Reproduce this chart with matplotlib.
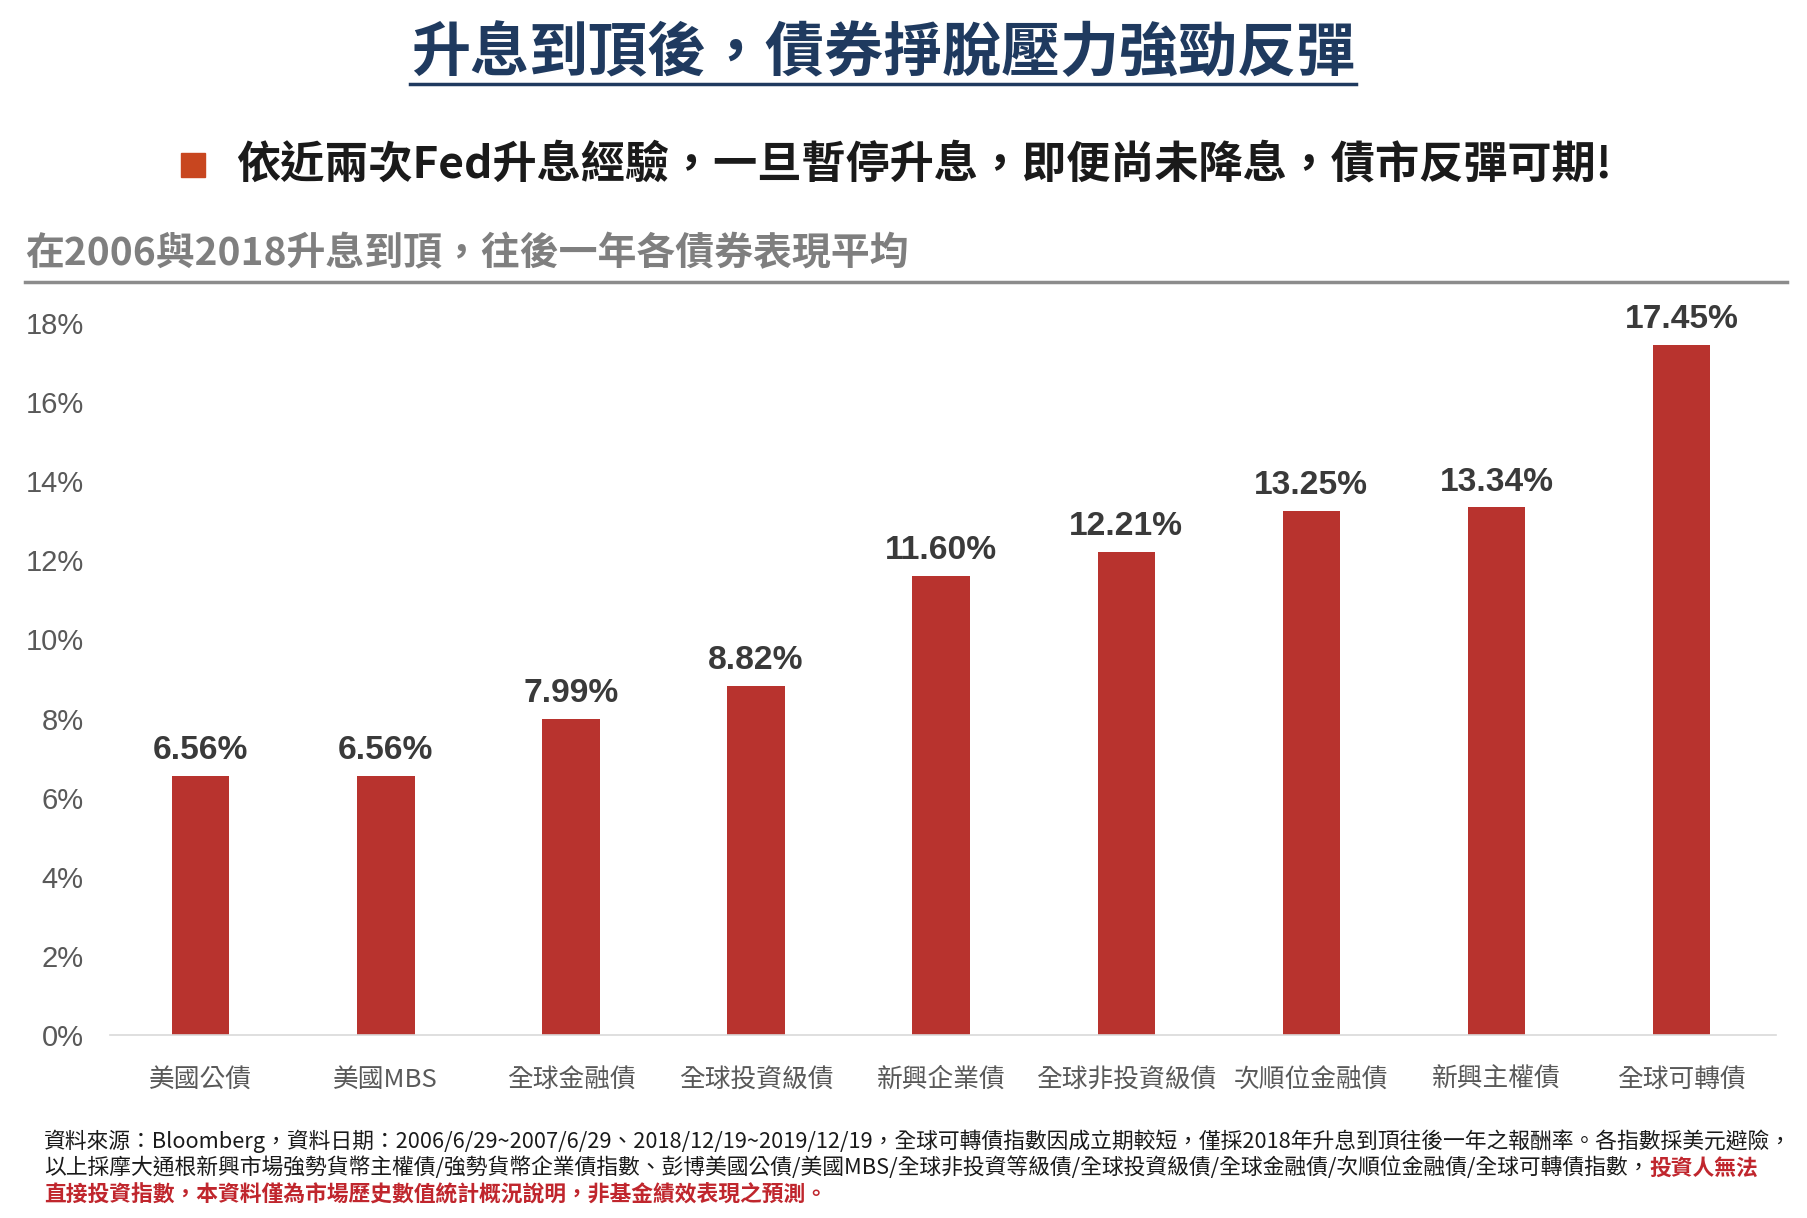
import matplotlib.pyplot as plt
from matplotlib.lines import Line2D
from matplotlib.patches import Rectangle

plt.rcParams['font.family'] = ['Noto Sans CJK TC', 'DejaVu Sans']

categories = ['美國公債', '美國MBS', '全球金融債', '全球投資級債', '新興企業債',
              '全球非投資級債', '次順位金融債', '新興主權債', '全球可轉債']
returns = [6.56, 6.56, 7.99, 8.82, 11.60, 12.21, 13.25, 13.34, 17.45]
yticks = [0, 2, 4, 6, 8, 10, 12, 14, 16, 18]

title = '升息到頂後，債券掙脫壓力強勁反彈'
headline = '依近兩次Fed升息經驗，一旦暫停升息，即便尚未降息，債市反彈可期!'
subtitle = '在2006與2018升息到頂，往後一年各債券表現平均'
note1 = ('資料來源：Bloomberg，資料日期：2006/6/29~2007/6/29、2018/12/19~2019/12/19，'
         '全球可轉債指數因成立期較短，僅採2018年升息到頂往後一年之報酬率。各指數採美元避險，')
note2 = ('以上採摩大通根新興市場強勢貨幣主權債/強勢貨幣企業債指數、彭博美國公債/美國MBS/'
         '全球非投資等級債/全球投資級債/全球金融債/次順位金融債/全球可轉債指數，')
note2_red = '投資人無法'
note3 = '直接投資指數，本資料僅為市場歷史數值統計概況說明，非基金績效表現之預測。'

W, H = 1808, 1218
fig = plt.figure(figsize=(W / 100, H / 100), dpi=100)

def fx(px):
    return px / W

def fy(py):
    return 1 - py / H

bar_color = '#B8332E'
latin = ['Liberation Sans', 'Noto Sans CJK TC']

# header
fig.text(fx(883), fy(54), title, ha='center', va='center', fontsize=42.5,
         fontweight='bold', color='#1F3A5F')
fig.add_artist(Line2D([fx(410), fx(1356)], [fy(84), fy(84)], color='#1F3A5F', lw=2.5))

fig.add_artist(Rectangle((fx(181), fy(177)), fx(24), 24 / H, color='#C8461F',
                         transform=fig.transFigure))
fig.text(fx(236), fy(165), headline, ha='left', va='center', fontsize=31.8,
         fontweight='bold', color='#1a1a1a')

fig.text(fx(25), fy(254), subtitle, ha='left', va='center', fontsize=28,
         fontweight='bold', color='#7f7f7f')
fig.add_artist(Line2D([fx(25), fx(1787)], [fy(282), fy(282)], color='#8c8c8c', lw=2.5))

# chart
ax = fig.add_axes([fx(110), 1 - 1035 / H, fx(1776 - 110), 712 / H])
x = range(len(categories))
bars = ax.bar(x, returns, width=0.31, color=bar_color)
for xi, v in zip(x, returns):
    ax.annotate(f'{v:.2f}%', (xi, v), xytext=(0, 7), textcoords='offset points',
                ha='center', va='bottom', fontsize=24.2, fontweight='bold',
                color='#3a3a3a', family=latin)

ax.set_xlim(-0.49, 8.51)
ax.set_ylim(0, 18)
ax.set_yticks(yticks)
ax.set_yticklabels([f'{t}%' for t in yticks], family=latin, fontsize=21, color='#595959')
ax.set_xticks(list(x))
ax.set_xticklabels(categories, fontsize=18.5, color='#595959')
ax.tick_params(axis='both', length=0)
ax.tick_params(axis='y', pad=19)
ax.tick_params(axis='x', pad=23)
for s in ['top', 'right', 'left']:
    ax.spines[s].set_visible(False)
ax.spines['bottom'].set_color('#d9d9d9')
ax.spines['bottom'].set_linewidth(1.2)

# footnote
fs = 15.7
fig.text(fx(44), fy(1141), note1, ha='left', va='center', fontsize=fs, color='#1a1a1a')
t2 = fig.text(fx(44), fy(1168), note2, ha='left', va='center', fontsize=fs, color='#1a1a1a')
ax.annotate(note2_red, xy=(1, 0.5), xycoords=t2, ha='left', va='center',
            fontsize=fs, fontweight='bold', color='#C0262D')
fig.text(fx(44), fy(1195), note3, ha='left', va='center', fontsize=fs,
         fontweight='bold', color='#C0262D')

fig.savefig('out.png', dpi=100, facecolor='white')
